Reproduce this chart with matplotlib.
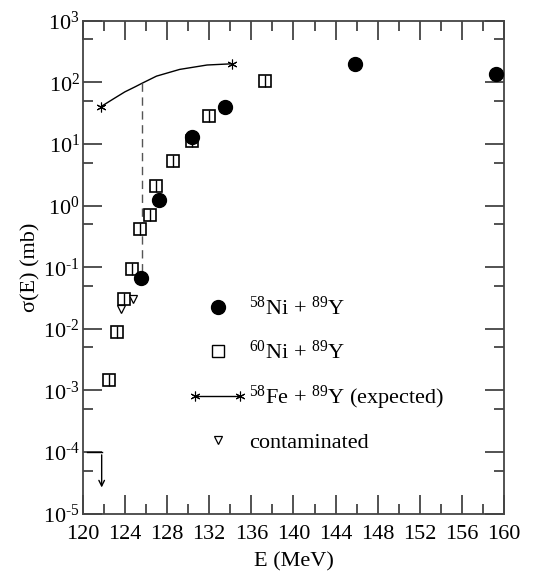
import matplotlib
matplotlib.use("Agg")
import matplotlib.pyplot as plt
import numpy as np
from matplotlib.lines import Line2D
from matplotlib.legend_handler import HandlerLine2D

plt.rcParams['font.family'] = ['Liberation Serif', 'DejaVu Serif']
plt.rcParams['mathtext.fontset'] = 'custom'
plt.rcParams['mathtext.rm'] = 'Liberation Serif'
plt.rcParams['mathtext.it'] = 'Liberation Serif:italic'
plt.rcParams['mathtext.bf'] = 'Liberation Serif:bold'

# --- data ---
ni58_E = [125.5, 127.2, 130.4, 133.5, 145.8, 159.2]
ni58_s = [0.067, 1.21, 12.8, 40.0, 198.0, 136.0]

ni60_E = [122.5, 123.3, 123.9, 124.7, 125.4, 126.4, 127.0, 128.6, 130.4, 132.0, 137.3]
ni60_s = [0.00147, 0.0089, 0.030, 0.092, 0.41, 0.70, 2.07, 5.3, 11.3, 28.4, 106.0]

cont_E = [123.6, 124.8]
cont_s = [0.0206, 0.031]

fe58_E = [121.7, 123.0, 124.0, 125.0, 125.6, 127.0, 129.2, 131.8, 134.2]
fe58_s = [40.0, 55.0, 70.0, 85.0, 96.0, 126.0, 162.0, 191.0, 200.0]

limit_E = [120.4, 121.8]
limit_s = 1.0e-4
limit_arrow_end = 2.4e-5

barrier_E = 125.6
barrier_s = [96.0, 0.075]

xticks = [120, 124, 128, 132, 136, 140, 144, 148, 152, 156, 160]
yexp = [-5, -4, -3, -2, -1, 0, 1, 2, 3]

fig = plt.figure(figsize=(5.43, 5.75), dpi=100)
ax = fig.add_axes([0.1523, 0.1066, 0.7764, 0.8574])
ax.set_yscale('log')
ax.set_xlim(120, 160)
ax.set_ylim(1e-5, 1e3)

spine_c = '#444444'
for s in ax.spines.values():
    s.set_color(spine_c)
    s.set_linewidth(1.3)

# Fe58 expected
ax.plot(fe58_E, fe58_s, color='black', lw=1.0, marker=(6, 2, 0), ms=7,
        markevery=[0, len(fe58_E) - 1], mec='black', mew=0.8)
# barrier dashed line
ax.plot([barrier_E, barrier_E], barrier_s, color='#555555', lw=1.0, ls=(0, (6, 4)))

# Ni60 squares with small error bars drawn over them
ni60_arr = np.array(ni60_s)
ax.plot(ni60_E, ni60_s, 's', ms=8, mfc='white', mec='black', mew=1.2, zorder=3)
ax.errorbar(ni60_E, ni60_s, yerr=[ni60_arr * 0.2, ni60_arr * 0.25],
            fmt='none', ecolor='black', elinewidth=1.0, capsize=0, zorder=3.5)
# Ni58 filled circles
ax.plot(ni58_E, ni58_s, 'o', ms=10, color='black', zorder=4)
# contaminated
ax.plot(cont_E, cont_s, 'v', ms=6, mfc='white', mec='black', mew=0.9, zorder=5)

# upper limit
ax.plot(limit_E, [limit_s, limit_s], color='black', lw=1.0)
ax.annotate('', xy=(limit_E[1], limit_arrow_end), xytext=(limit_E[1], limit_s),
            arrowprops=dict(arrowstyle='->', color='black', lw=1.0))

# ticks
ax.set_xticks(xticks)
ax.set_xticklabels([str(t) for t in xticks])
ax.set_xticks(np.arange(122, 160, 4), minor=True)
ax.set_yticks([10.0 ** e for e in yexp])
ax.set_yticklabels([r'$10^{\text{%d}}$' % e for e in yexp])
ax.set_yticks([5 * 10.0 ** e for e in range(-5, 3)], minor=True)
ax.set_yticklabels([], minor=True)
ax.tick_params(which='both', direction='in', top=True, right=True, color=spine_c,
               labelsize=16, width=1.3)
ax.tick_params(which='major', length=14, pad=2)
ax.tick_params(which='minor', length=7)
ax.tick_params(axis='x', which='major', pad=8)

ax.set_xlabel('E (MeV)', fontsize=16, labelpad=6)
ax.set_ylabel(r'σ(E) (mb)', fontsize=16, labelpad=2)

h_fe = Line2D([], [], color='black', lw=1.0, marker=(6, 2, 0), ms=7, mew=0.8)
handles = [
    Line2D([], [], ls='none', marker='o', ms=10, color='black'),
    Line2D([], [], ls='none', marker='s', ms=8, mfc='white', mec='black', mew=1.0),
    h_fe,
    Line2D([], [], ls='none', marker='v', ms=6, mfc='white', mec='black', mew=0.9),
]
labels = [r'$^{58}$Ni + $^{89}$Y', r'$^{60}$Ni + $^{89}$Y',
          r'$^{58}$Fe + $^{89}$Y (expected)', 'contaminated']
ax.legend(handles, labels, loc='upper left', bbox_to_anchor=(0.266, 0.44),
          frameon=False, fontsize=16, handlelength=2.05, handletextpad=0.4,
          labelspacing=0.92, borderpad=0, borderaxespad=0,
          handler_map={h_fe: HandlerLine2D(numpoints=2, marker_pad=0)})

fig.savefig('out.png', dpi=100)
